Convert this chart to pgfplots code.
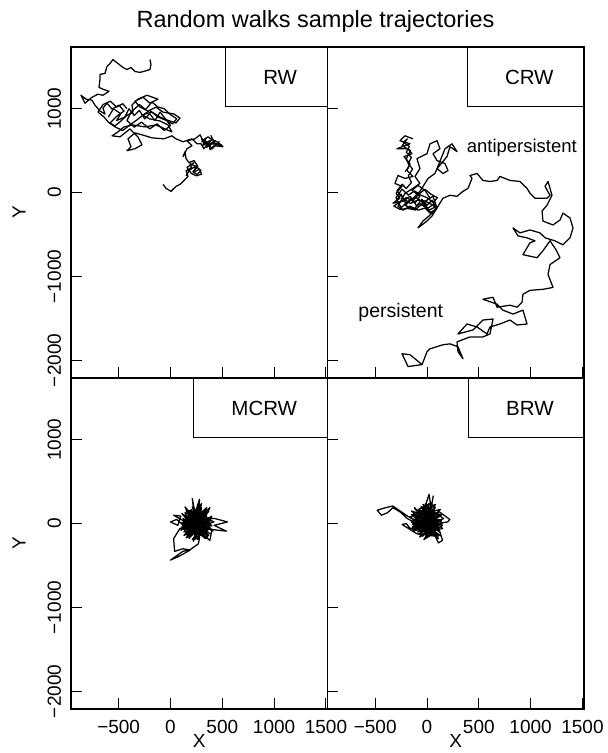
\documentclass[border=0pt]{standalone}
\usepackage{fontspec}
\setmainfont{Liberation Sans}
\usepackage{pgfplots}
\pgfplotsset{compat=1.18}
\pgfplotsset{
 panel/.style={
  scale only axis, width=256.5pt, height=331pt,
  xmin=-960, xmax=1515, ymin=-2210, ymax=1736,
  xtick={-500,0,500,1000,1500}, ytick={-2000,-1000,0,1000},
  xticklabels={−500,0,500,1000,1500},
  yticklabels={−2000,−1000,0,1000},
  tick align=inside, tick pos=left,
  major tick length=10.5pt,
  every tick/.style={black, line width=0.9pt},
  axis line style={line width=1.2pt},
  ticklabel style={font=\fontsize{19}{19}\selectfont},
  yticklabel style={rotate=90, anchor=south},
  xticklabel shift=7.5pt, yticklabel shift=6.5pt,
  label style={font=\fontsize{19}{19}\selectfont},
  xlabel style={at={(axis description cs:0.5,0)}, anchor=base, yshift=-38.5pt},
  ylabel style={at={(axis description cs:-0.2027,0.5)}, anchor=center},
  clip mode=individual,
 },
 traj/.style={black, line width=1.25pt, line join=round, mark=none},
}
\tikzset{lbox/.style={draw, fill=white, line width=0.8pt, anchor=north east, minimum height=59.5pt, inner xsep=0pt, font=\fontsize{20.5}{20.5}\selectfont}}
\begin{document}
\begin{tikzpicture}
\useasboundingbox (0pt,0pt) rectangle (608pt,753pt);
\node[anchor=base, font=\fontsize{23.5}{23.5}\selectfont] at (315.5pt,725.7pt) {Random walks sample trajectories};

% RW (top left)
\begin{axis}[panel, at={(71pt,375pt)}, anchor=south west, xticklabels={}, ylabel={Y}]
\addplot[traj] coordinates {(-72,98) (-43,51) (5,15) (53,74) (92,98) (130,145) (169,193) (150,263) (207,287) (188,346) (246,311) (294,263) (256,216) (217,252) (265,311) (227,382) (179,358) (150,405) (140,488) (121,429) (159,523) (207,559) (159,618) (236,641) (285,689) (314,618) (362,665) (400,630) (343,570) (410,594) (468,570) (507,547) (420,559) (381,511) (372,606) (323,523) (294,582) (256,582) (207,641) (121,606) (53,641) (14,677) (-63,641) (-179,653) (-275,689) (-343,712) (-410,641) (-381,547) (-420,500) (-343,523) (-275,570) (-314,665) (-391,759) (-487,665) (-564,677) (-507,724) (-449,783) (-362,807) (-246,783) (-140,807) (-53,759) (14,724) (-24,807) (-101,854) (-198,878) (-275,925) (-179,960) (-101,901) (-34,866) (53,830) (92,889) (34,937) (-72,960) (-140,1019) (-217,972) (-294,1019) (-343,1090) (-265,1137) (-198,1066) (-121,1114) (-227,1161) (-314,1114) (-372,1043) (-362,960) (-429,913) (-478,854) (-536,795) (-584,830) (-516,913) (-449,972) (-497,1043) (-564,996) (-613,1066) (-651,1007) (-632,937) (-680,972) (-729,1043) (-758,1102) (-815,1114) (-864,1161) (-825,1066) (-758,1137) (-700,1173) (-651,1161) (-593,1208) (-651,1232) (-690,1255) (-680,1350) (-680,1409) (-632,1421) (-613,1503) (-584,1539) (-555,1586) (-507,1539) (-458,1492) (-420,1468) (-381,1492) (-343,1444) (-294,1433) (-227,1456) (-198,1468) (-188,1527) (-198,1586)};
\addplot[traj] coordinates {(300,600) (340,650) (310,560) (380,620) (350,540) (420,600) (390,680) (440,560) (470,610) (400,520) (360,600) (300,640) (330,580) (450,580) (500,560) (430,620) (370,570) (320,610)};
\addplot[traj] coordinates {(-600,900) (-550,1000) (-480,940) (-520,860) (-440,900) (-400,1000) (-350,920) (-300,980) (-250,880) (-200,940) (-150,860) (-100,960) (-50,880) (0,800) (-60,740) (-130,820) (-200,760) (-280,840) (-350,780) (-420,860) (-380,960) (-300,1050) (-240,990) (-180,1080) (-120,1020) (-60,1000) (0,930) (60,880) (20,820) (-40,860) (-120,900) (-200,980) (-260,930) (-320,870) (-400,800) (-460,740) (-530,780) (-600,840) (-640,900) (-700,960) (-650,1050) (-580,1090) (-520,1020) (-460,1060) (-420,1000)};
\addplot[traj] coordinates {(150,200) (200,300) (170,260) (250,320) (220,240) (280,280) (300,220) (250,200) (200,230) (160,300) (230,360)};
\node[lbox] at (rel axis cs:1,1) {\hspace*{38pt}RW\hspace*{30pt}};
\end{axis}

% CRW (top right)
\begin{axis}[panel, at={(327.5pt,375pt)}, anchor=south west, xticklabels={}, yticklabels={}]
\addplot[traj] coordinates {(-135,641) (-212,677) (-261,618) (-164,582) (-290,523) (-183,523) (-145,464) (-222,429) (-164,346) (-193,263) (-135,193) (-212,169) (-280,204) (-309,110) (-241,74) (-299,-8) (-261,-67) (-328,-126) (-232,-103) (-164,-44) (-116,-126) (-68,-44) (-145,27) (-87,86) (-19,27) (29,-67) (-48,-126) (10,-185) (77,-126) (97,-185) (29,-244) (-19,-185) (-87,-209) (-164,-162) (-232,-209) (-280,-162) (-212,-8) (-135,51) (-68,110) (-116,193) (-68,287) (-97,405) (0,464) (29,582) (97,618) (125,523) (58,464) (97,381) (174,346) (203,263) (154,228) (97,287) (193,429) (222,547) (290,488) (241,582) (174,523) (77,228) (10,169) (-68,15) (-135,-67) (-212,-150) (-116,-209) (-19,-103) (58,-44) (97,-185) (29,-268) (-39,-339) (-87,-421) (0,-339) (48,-280) (125,-126) (154,-67) (222,-32) (290,-44) (347,15) (396,51) (415,110) (434,169) (415,204) (483,228) (540,145) (608,133) (676,145) (704,193) (801,145) (897,133) (965,51) (994,-8) (1042,-67) (1158,-67) (1187,-32) (1139,74) (1168,133) (1206,-32) (1158,-150) (1110,-221) (1119,-339) (1216,-386) (1283,-327) (1312,-244) (1380,-303) (1409,-421) (1380,-539) (1312,-622) (1235,-575) (1139,-539) (1090,-480) (994,-445) (897,-480) (830,-421) (878,-516) (965,-539) (1042,-575) (994,-598) (965,-657) (926,-740) (1062,-776) (1119,-693) (1187,-575) (1245,-681) (1283,-776) (1187,-858) (1168,-976) (1216,-1130) (1119,-1153) (994,-1165) (926,-1212) (917,-1307) (869,-1366) (801,-1342) (676,-1366) (637,-1248) (540,-1271) (676,-1330) (733,-1401) (830,-1448) (926,-1401) (965,-1566) (869,-1578) (801,-1519) (704,-1566) (608,-1602) (579,-1685) (483,-1602) (386,-1566) (299,-1685) (444,-1637) (540,-1519) (637,-1507) (608,-1685) (540,-1720) (415,-1720) (290,-1779) (299,-1897) (347,-1980) (299,-1838) (222,-1803) (154,-1814) (29,-1862) (0,-1897) (-48,-2050) (-164,-1932) (-241,-1921) (-183,-2074) (-48,-2050)};
\addplot[traj] coordinates {(-300,-100) (-250,-20) (-200,-140) (-150,-60) (-100,-160) (-50,-80) (0,-150) (50,-90) (80,-170) (20,-210) (-40,-120) (-100,-60) (-180,-100) (-250,-180) (-300,-60) (-240,40) (-180,-30) (-120,20) (-60,-30) (0,-60) (60,-120) (100,-60) (40,-20) (-20,40) (-80,-20) (-140,-100) (-200,-60) (-270,-120) (-320,-160) (-260,-200) (-190,-190) (-130,-200) (-70,-130) (-10,-180) (40,-240) (90,-200) (60,-150) (-20,-100) (-90,-90) (-160,-130) (-230,-70) (-290,20) (-240,100) (-200,50) (-150,120) (-180,200) (-140,280) (-180,350) (-150,420) (-200,480) (-170,550) (-230,600) (-190,640) (-240,560) (-160,500) (-200,400) (-170,320) (-210,250)};
\node[lbox] at (rel axis cs:1,1) {\hspace*{38pt}CRW\hspace*{30pt}};
\node[anchor=base east, font=\fontsize{18.5}{18.5}\selectfont] at (axis cs:1480,484) {antipersistent};
\node[anchor=base west, font=\fontsize{19.5}{19.5}\selectfont] at (axis cs:-695,-1484) {persistent};
\end{axis}

% MCRW (bottom left)
\begin{axis}[panel, at={(71pt,44pt)}, anchor=south west, xlabel={X}, ylabel={Y}]
\addplot[traj] coordinates {(250,-20) (120,60) (330,-110) (190,150) (380,30) (150,-130) (290,180) (110,-40) (360,-160) (230,110) (170,-90) (400,90) (260,-190) (140,130) (320,40) (200,-150) (370,150) (120,-10) (280,-80) (210,200) (340,-40) (160,20) (300,120) (230,-120) (390,-60) (130,100) (270,10) (180,-180) (350,190) (100,-80) (240,70) (310,-140) (150,170) (420,20) (200,-60) (280,230) (260,-100) (110,120) (380,-120) (220,30) (160,-140) (330,100) (190,-30) (360,-10) (130,-100) (300,190) (240,-160) (170,80) (410,-90) (250,140) (140,-60) (320,-30) (210,-190) (370,70) (120,40) (290,-120) (190,160) (340,-180) (160,-10) (260,200) (400,-30) (180,110) (300,-70) (150,-170) (350,120) (230,-40) (110,10) (280,90) (220,-210) (380,190) (170,-50) (310,20) (200,130) (330,-90) (140,200) (270,-150) (390,50) (240,-70) (130,-140) (360,160) (250,40) (210,300) (230,100) (280,290) (270,60) (430,60) (550,20) (420,-20) (540,-90) (400,-70) (380,-200) (300,-120) (150,-50) (60,50) (0,20) (70,-20) (100,90) (30,100) (130,30) (260,-60) (280,-170) (270,-240) (190,-310) (120,-330) (0,-435) (90,-385) (190,-315) (120,-300) (40,-330) (30,-180) (90,-60) (200,0)};
\addplot[traj] coordinates {(240,10) (180,-40) (300,60) (220,-100) (340,0) (200,80) (280,-130) (150,30) (320,150) (260,-60) (190,120) (360,-80) (230,170) (170,-160) (310,-10) (210,60) (290,-110) (140,-20) (350,90) (250,-140) (200,170) (330,-160) (160,90) (270,130) (230,-190) (380,-30) (120,-70) (300,240) (260,20) (190,-120) (340,140) (210,-20) (280,60) (150,150) (370,-140) (240,-90) (170,40) (320,-60) (220,120) (290,-30)};
\node[lbox] at (rel axis cs:1,1) {\hspace*{38pt}MCRW\hspace*{30pt}};
\end{axis}

% BRW (bottom right)
\begin{axis}[panel, at={(327.5pt,44pt)}, anchor=south west, xlabel={X}, yticklabels={}]
\addplot[traj] coordinates {(0,40) (-130,120) (110,-60) (-60,200) (140,100) (-100,-80) (60,220) (-150,20) (90,-140) (-30,150) (120,30) (-80,-130) (40,-30) (-120,180) (150,-20) (-10,-160) (70,160) (-140,-40) (100,90) (-50,60) (130,-110) (-90,130) (20,-90) (-160,80) (80,230) (-20,-20) (140,-150) (-110,10) (50,110) (-70,-160) (100,-30) (-40,230) (160,60) (-130,-90) (30,180) (-90,50) (110,-180) (-20,100) (-150,150) (80,-80) (10,20) (-60,-60) (130,170) (-110,90) (60,-120) (-30,-190) (90,40) (-140,-10) (40,250) (-80,170) (150,10) (-10,-110) (-120,40) (-200,100) (-330,210) (-400,190) (-480,160) (-440,100) (-380,130) (-330,190) (-260,140) (-190,60) (-100,0) (70,-20) (-40,120) (20,350) (40,180) (60,330) (30,100) (120,140) (220,50) (200,20) (100,0) (150,-200) (110,-230) (80,-150) (-100,-120) (-240,-10) (-200,0) (-160,-60) (-60,-30) (20,60)};
\addplot[traj] coordinates {(-20,60) (60,-40) (-90,150) (100,120) (-130,-40) (30,-120) (-50,200) (120,-80) (-110,70) (50,160) (-60,-110) (140,40) (-150,110) (10,-60) (80,200) (-40,-150) (-100,30) (90,-130) (-10,240) (-140,-70) (130,100) (-70,120) (40,-10) (-120,190) (110,-150) (-30,20) (60,90) (-90,-100) (150,-60) (0,150)};
\node[lbox] at (rel axis cs:1,1) {\hspace*{38pt}BRW\hspace*{30pt}};
\end{axis}
\end{tikzpicture}
\end{document}
